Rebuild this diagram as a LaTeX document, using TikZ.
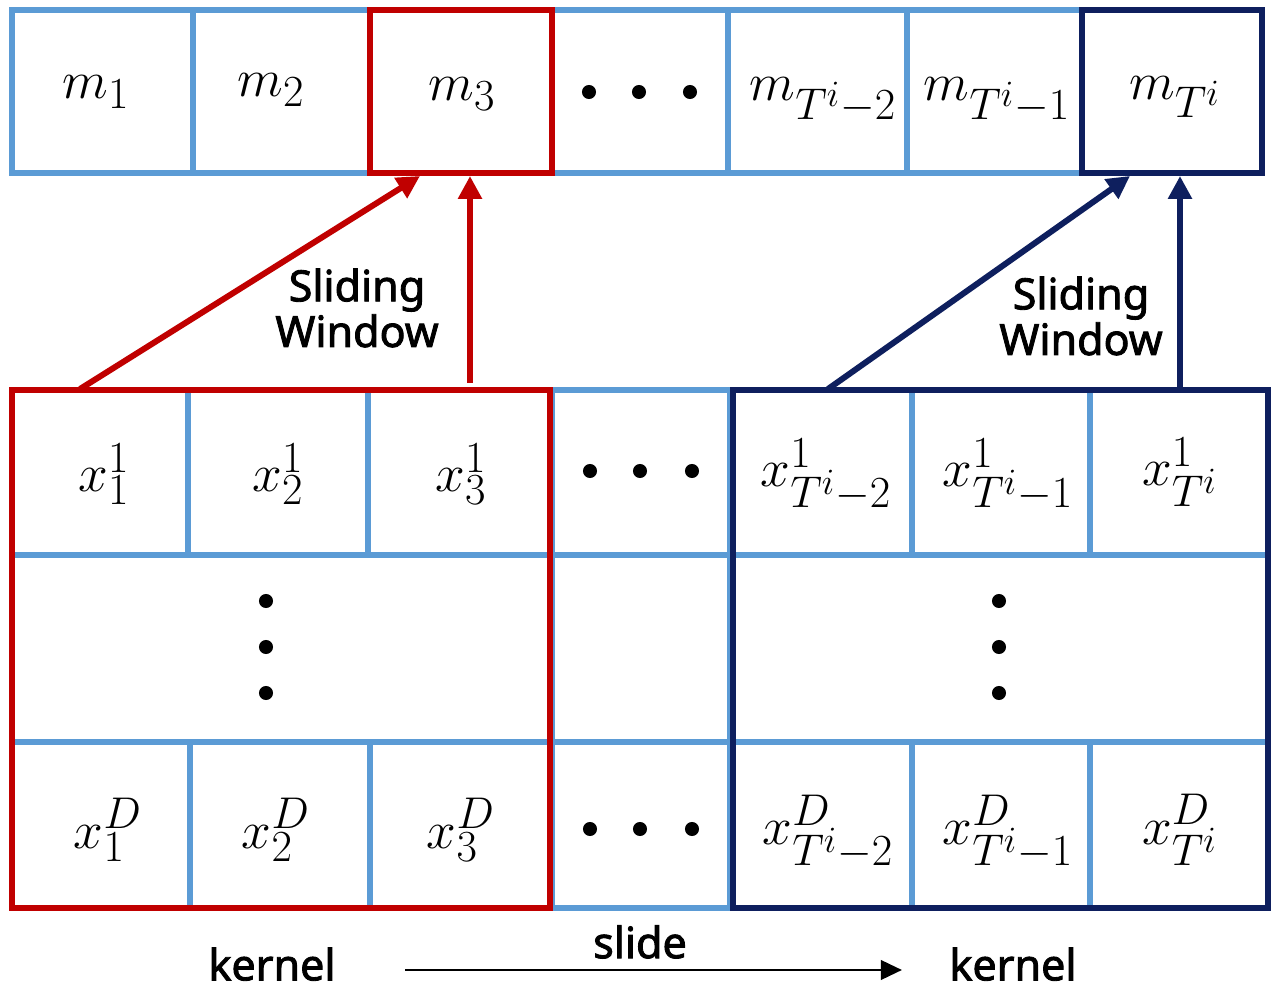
\documentclass[tikz,border=0pt]{standalone}
\usepackage{fontspec}
\usetikzlibrary{fit,arrows.meta}
\newfontfamily\labfont[FakeBold=2]{Noto Sans}
\definecolor{cellblue}{HTML}{5B9BD5}
\definecolor{kred}{HTML}{C00000}
\definecolor{knavy}{HTML}{0E1F5E}
\tikzset{
  cell/.style={draw=cellblue, line width=3.4pt, inner sep=0pt},
  redbox/.style={draw=kred, line width=3.9pt, inner sep=0pt},
  navybox/.style={draw=knavy, line width=3.9pt, inner sep=0pt},
  mtext/.style={font=\fontsize{24.88}{30}\selectfont, inner sep=0pt, scale=1.22, transform shape},
  lab/.style={font=\labfont\fontsize{24.5}{27}\selectfont, align=center, inner sep=0pt},
  dotc/.style={fill=black, draw=none, circle, minimum size=8pt, inner sep=0pt},
  redarrow/.style={draw=kred, line width=3.4pt, -{Triangle[length=13pt,width=13pt]}},
  navyarrow/.style={draw=knavy, line width=3.4pt, -{Triangle[length=13pt,width=13pt]}},
  slidearrow/.style={draw=black, line width=1.7pt, -{Triangle[length=12pt,width=11pt]}}
}
\begin{document}
\begin{tikzpicture}[x=0.02cm,y=-0.02cm]
\useasboundingbox[fill=white] (0,0) rectangle (1276,989);
% ---------- top row ----------
\node[cell, fit={(12,10) (193,173)}] (m1) {};
\node[cell, fit={(193,10) (370,173)}] (m2) {};
\node[cell, fit={(552,10) (728,173)}] (mdots) {};
\node[cell, fit={(728,10) (907,173)}] (ma) {};
\node[cell, fit={(907,10) (1082,173)}] (mb) {};
\node[redbox, fit={(370,10) (552,173)}] (m3) {};
\node[navybox, fit={(1082,10) (1262,173)}] (mc) {};
\node[mtext] (tm1) at (96,92) {$m_1$};
\node[mtext] (tm2) at (271,90) {$m_2$};
\node[mtext] (tm3) at (462,94) {$m_3$};
\node[mtext] (tma) at (823,100) {$m_{T^i-2}$};
\node[mtext] (tmb) at (997,100) {$m_{T^i-1}$};
\node[mtext] (tmc) at (1175,97) {$m_{T^i}$};
\node[dotc] (md1) at (589,92) {};
\node[dotc] (md2) at (639,92) {};
\node[dotc] (md3) at (690,92) {};
% ---------- lower grid ----------
% row 1
\node[cell, fit={(12,390) (188,555)}] (x11) {};
\node[cell, fit={(188,390) (368,555)}] (x21) {};
\node[cell, fit={(368,390) (550,555)}] (x31) {};
\node[cell, fit={(552,390) (730,555)}] (xd1) {};
\node[cell, fit={(732,390) (912,555)}] (xa1) {};
\node[cell, fit={(912,390) (1090,555)}] (xb1) {};
\node[cell, fit={(1090,390) (1268,555)}] (xc1) {};
% middle row
\node[cell, fit={(12,555) (550,742)}] (midl) {};
\node[cell, fit={(552,555) (730,742)}] (midc) {};
\node[cell, fit={(732,555) (1268,742)}] (midr) {};
% row D
\node[cell, fit={(12,742) (190,908)}] (x1D) {};
\node[cell, fit={(190,742) (370,908)}] (x2D) {};
\node[cell, fit={(370,742) (550,908)}] (x3D) {};
\node[cell, fit={(552,742) (730,908)}] (xdD) {};
\node[cell, fit={(732,742) (912,908)}] (xaD) {};
\node[cell, fit={(912,742) (1090,908)}] (xbD) {};
\node[cell, fit={(1090,742) (1268,908)}] (xcD) {};
% kernel frames
\node[redbox, fit={(12,390) (550,908)}] (kerA) {};
\node[navybox, fit={(733,390) (1268,908)}] (kerB) {};
% texts row 1
\node[mtext] (t11) at (104,474) {$x_1^1$};
\node[mtext] (t21) at (278,474) {$x_2^1$};
\node[mtext] (t31) at (461,474) {$x_3^1$};
\node[mtext] (ta1) at (826,475) {$x_{T^i-2}^1$};
\node[mtext] (tb1) at (1008,475) {$x_{T^i-1}^1$};
\node[mtext] (tc1) at (1180,472) {$x_{T^i}^1$};
% texts row D
\node[mtext] (t1D) at (108,830) {$x_1^D$};
\node[mtext] (t2D) at (276,830) {$x_2^D$};
\node[mtext] (t3D) at (461,830) {$x_3^D$};
\node[mtext] (taD) at (828,832) {$x_{T^i-2}^D$};
\node[mtext] (tbD) at (1008,832) {$x_{T^i-1}^D$};
\node[mtext] (tcD) at (1180,830) {$x_{T^i}^D$};
% dots
\node[dotc] (d11) at (590,471) {};
\node[dotc] (d12) at (640,471) {};
\node[dotc] (d13) at (692,471) {};
\node[dotc] (dD1) at (590,829) {};
\node[dotc] (dD2) at (640,829) {};
\node[dotc] (dD3) at (692,829) {};
\node[dotc] (vl1) at (266,601) {};
\node[dotc] (vl2) at (266,647) {};
\node[dotc] (vl3) at (266,693) {};
\node[dotc] (vr1) at (999,601) {};
\node[dotc] (vr2) at (999,647) {};
\node[dotc] (vr3) at (999,693) {};
% ---------- arrows ----------
\coordinate (ra0) at (80,389);
\coordinate (ra1) at (420,176);
\coordinate (rb0) at (470,383);
\coordinate (rb1) at (470,176);
\coordinate (na0) at (828,389);
\coordinate (na1) at (1130,176);
\coordinate (nb0) at (1180,389);
\coordinate (nb1) at (1180,176);
\draw[redarrow] (ra0) -- (ra1);
\draw[redarrow] (rb0) -- (rb1);
\draw[navyarrow] (na0) -- (na1);
\draw[navyarrow] (nb0) -- (nb1);
\node[lab] (swA) at (357,308) {Sliding\\[-1pt]Window};
\node[lab] (swB) at (1081,316) {Sliding\\[-1pt]Window};
% ---------- bottom ----------
\node[lab, text depth=0pt] (kl) at (272,964) {kernel};
\node[lab, text depth=0pt] (kr) at (1013,964) {kernel};
\node[lab] (sl) at (640,942) {slide};
\coordinate (s0) at (405,970);
\coordinate (s1) at (902,970);
\draw[slidearrow] (s0) -- (s1);
\end{tikzpicture}
\end{document}
